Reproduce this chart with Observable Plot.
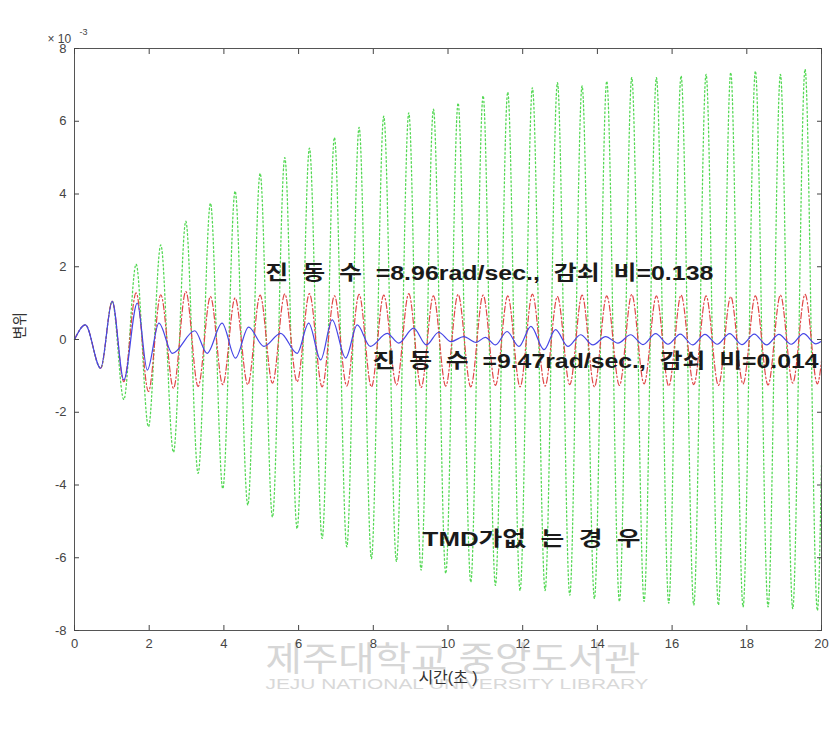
<!DOCTYPE html>
<html><head><meta charset="utf-8">
<script src="https://cdn.jsdelivr.net/npm/d3@7"></script>
<script src="https://cdn.jsdelivr.net/npm/@observablehq/plot@0.6"></script>
<style>body{margin:0;background:#fff;}#chart svg{display:block;}#chart svg text{white-space:pre;}</style>
</head><body><div id="chart"></div>
<script>
// --- data (values in units of 10^-3) ---
const startT = [0, 0.29, 0.70, 1.01];
const startV = [0, 0.40, -0.79, 1.05];

// extrema times of the forced oscillation (green & red share the same phase)
const extT = [1.32, 1.65, 1.98, 2.31, 2.65, 2.98, 3.31, 3.64, 3.97, 4.30, 4.64, 4.97, 5.30, 5.63, 5.96, 6.29,
  6.63, 6.96, 7.29, 7.62, 7.95, 8.28, 8.62, 8.95, 9.28, 9.61, 9.94, 10.27, 10.61, 10.94, 11.27, 11.60,
  11.93, 12.26, 12.60, 12.93, 13.26, 13.59, 13.92, 14.25, 14.59, 14.92, 15.25, 15.58, 15.91, 16.24,
  16.58, 16.91, 17.24, 17.57, 17.90, 18.23, 18.57, 18.90, 19.23, 19.56, 19.89];

// no TMD (green dotted)
const greenV = [-1.65, 2.07, -2.4, 2.6, -3.1, 3.25, -3.68, 3.75, -4.1, 4.08, -4.55, 4.57, -4.88, 5.0,
  -5.2, 5.26, -5.47, 5.55, -5.7, 5.83, -6.02, 6.14, -6.1, 6.23, -6.34, 6.33, -6.43, 6.5, -6.67, 6.7,
  -6.76, 6.8, -6.9, 6.92, -6.9, 7.06, -7.03, 6.97, -7.12, 7.1, -7.2, 7.2, -7.2, 7.2, -7.25, 7.25,
  -7.3, 7.29, -7.3, 7.34, -7.35, 7.38, -7.35, 7.29, -7.4, 7.43, -7.45];
const greenEnd = -3.4;

// TMD 8.96 rad/sec, damping 0.138 (red dash-dot)
const redV = [-1.16, 1.28, -1.43, 1.23, -1.34, 1.32, -1.29, 1.18, -1.24, 1.14, -1.24, 1.22, -1.2, 1.25,
  -1.16, 1.26, -1.3, 1.2, -1.28, 1.24, -1.3, 1.22, -1.25, 1.26, -1.32, 1.2, -1.28, 1.24, -1.3, 1.22,
  -1.26, 1.2, -1.3, 1.25, -1.28, 1.18, -1.24, 1.22, -1.3, 1.2, -1.26, 1.24, -1.22, 1.2, -1.28, 1.22,
  -1.24, 1.2, -1.26, 1.18, -1.22, 1.2, -1.25, 1.22, -1.2, 1.24, -1.22];
const redEnd = -0.6;

// TMD 9.47 rad/sec, damping 0.014 (blue solid)
const blueT = [1.32, 1.68, 1.95, 2.26, 2.62, 3.22, 3.55, 3.95, 4.31, 4.66, 5.07, 5.52, 5.96, 6.27, 6.59,
  6.90, 7.26, 7.57, 7.92, 8.37, 8.68, 9.08, 9.42, 9.75, 10.08, 10.42, 10.75, 11.00, 11.27, 11.58, 11.90,
  12.22, 12.57, 12.88, 13.21, 13.55, 13.88, 14.22, 14.55, 14.89, 15.22, 15.56, 15.89, 16.22, 16.55,
  16.88, 17.21, 17.54, 17.87, 18.20, 18.53, 18.86, 19.19, 19.52, 19.85, 20.0];
const blueV = [-1.11, 1.0, -0.84, 0.45, -0.38, 0.24, -0.38, 0.45, -0.51, 0.34, -0.19, 0.17, -0.38, 0.45,
  -0.56, 0.54, -0.51, 0.40, -0.19, 0.17, -0.10, 0.31, -0.15, 0.20, -0.06, 0.08, -0.08, 0.06, -0.15, 0.22,
  -0.19, 0.36, -0.28, 0.27, -0.19, 0.13, -0.15, 0.08, -0.10, 0.13, -0.14, 0.16, -0.13, 0.15, -0.15,
  0.14, -0.13, 0.16, -0.14, 0.15, -0.15, 0.14, -0.13, 0.16, -0.12, -0.05];

const xTicks = [0, 2, 4, 6, 8, 10, 12, 14, 16, 18, 20];
const yTicks = [-8, -6, -4, -2, 0, 2, 4, 6, 8];

const annoText = ["진  동  수  =8.96rad/sec.,  감쇠  비=0.138", "진  동  수  =9.47rad/sec.,  감쇠  비=0.014", "TMD가없  는  경  우"];
const annoT = [5.11, 7.98, 9.32];
const annoV = [1.82, -0.61, -5.51];
const annoWidth = [448, 446, 218];

const xLabel = "시간(초 )";
const yLabel = "변위";
const watermark1 = "제주대학교 중앙도서관";
const watermark2 = "JEJU NATIONAL UNIVERSITY LIBRARY";

// --- build tables ---
const mk = (ts, vs) => ts.map((t, i) => ({t, v: vs[i]}));
const green = mk(startT.concat(extT, [20]), startV.concat(greenV, [greenEnd]));
const red = mk(startT.concat(extT, [20]), startV.concat(redV, [redEnd]));
const blue = mk(startT.concat(blueT), startV.concat(blueV));
const annos = annoText.map((s, i) => ({s, t: annoT[i], v: annoV[i]}));

const FONT = '"Liberation Sans", "Noto Sans CJK KR", sans-serif';

const plot = Plot.plot({
  width: 834, height: 733,
  marginLeft: 74, marginRight: 13, marginTop: 48, marginBottom: 103,
  style: {fontFamily: FONT, background: "#fff", overflow: "visible"},
  x: {domain: [0, 20]},
  y: {domain: [-8, 8]},
  marks: [
    // library watermark of the scanned source
    Plot.text([watermark1], {frameAnchor: "bottom", dy: 40, dx: 5, fontSize: 34, fill: "#d6d6d6", text: d => d}),
    Plot.text([watermark2], {frameAnchor: "bottom", dy: 58, dx: 9, fontSize: 15, fill: "#d8d8d8", text: d => d}),
    Plot.line(green, {x: "t", y: "v", stroke: "#55d855", strokeWidth: 1.3, strokeDasharray: "1.6,2.6", curve: "monotone-x"}),
    Plot.line(red, {x: "t", y: "v", stroke: "#e04848", strokeWidth: 1.2, strokeDasharray: "6,2.5,1.5,2.5", curve: "monotone-x"}),
    Plot.line(blue, {x: "t", y: "v", stroke: "#4646e6", strokeWidth: 1.2, curve: "monotone-x"}),
    Plot.frame({stroke: "#555", strokeWidth: 1}),
    Plot.axisX({anchor: "bottom", ticks: xTicks, tickSize: -5, tickPadding: 13, tickFormat: d => String(d), fontSize: 13, color: "#444", label: null}),
    Plot.axisX({anchor: "top", ticks: xTicks, tickSize: -5, tickFormat: () => "", color: "#444", label: null}),
    Plot.axisY({anchor: "left", ticks: yTicks, tickSize: -5, tickPadding: 13, tickFormat: d => String(d), fontSize: 13, color: "#444", label: null}),
    Plot.axisY({anchor: "right", ticks: yTicks, tickSize: -5, tickFormat: () => "", color: "#444", label: null}),
    // annotations
    Plot.text(annos, {x: "t", y: "v", text: "s", textAnchor: "start", fontSize: 20, fontWeight: "bold", fill: "#1a1a1a"}),
    // axis labels
    Plot.text([xLabel], {frameAnchor: "bottom", dy: 52, fontSize: 16, fill: "#333", text: d => d}),
    Plot.text([yLabel], {frameAnchor: "left", dx: -54, rotate: -90, fontSize: 15, fill: "#333", text: d => d}),
    Plot.text(["× 10"], {frameAnchor: "top-left", dx: -27, dy: -14, fontSize: 12, fill: "#444", textAnchor: "start", text: d => d}),
    Plot.text(["-3"], {frameAnchor: "top-left", dx: 5, dy: -20, fontSize: 9, fill: "#444", textAnchor: "start", text: d => d})
  ]
});
document.getElementById("chart").appendChild(plot);

// stretch annotation / watermark strings to the widths seen in the reference
const widths = new Map(annoText.map((s, i) => [s, annoWidth[i]]));
widths.set(watermark1, 375);
widths.set(watermark2, 383);
d3.select(plot).selectAll("text").each(function() {
  const w = widths.get(this.textContent);
  if (w) d3.select(this).attr("textLength", w).attr("lengthAdjust", "spacingAndGlyphs");
});
</script>
</body></html>
